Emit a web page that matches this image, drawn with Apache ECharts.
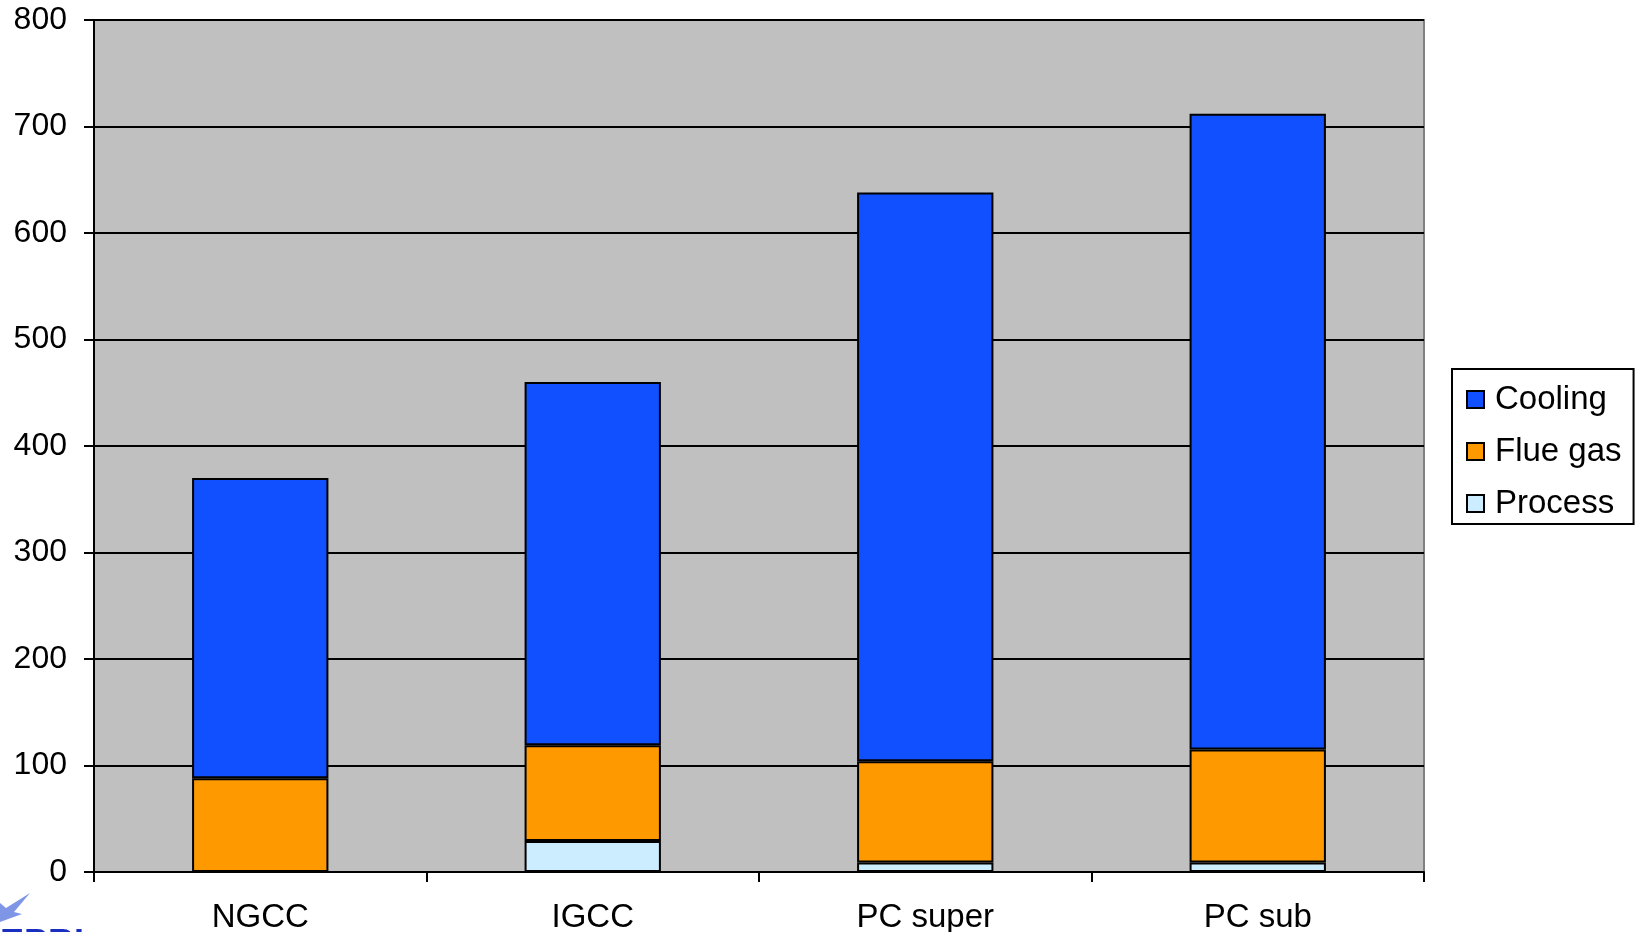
<!DOCTYPE html>
<html>
<head>
<meta charset="utf-8">
<script src="https://cdn.jsdelivr.net/npm/echarts@6/dist/echarts.min.js"></script>
<style>
html, body { margin: 0; padding: 0; background: #fff; }
#chart { width: 1640px; height: 932px; }
</style>
</head>
<body>
<div id="chart"></div>
<script>
var categories = ['NGCC', 'IGCC', 'PC super', 'PC sub'];
var processVals = [0, 29, 9, 9];
var flueVals = [88, 90, 95, 106];
var coolingVals = [282, 341, 534, 597];
var yTicks = [0, 100, 200, 300, 400, 500, 600, 700, 800];

var chart = echarts.init(document.getElementById('chart'));
var font = '"Liberation Sans", Arial, sans-serif';
var barBorder = { borderColor: '#000', borderWidth: 2 };

var option = {
    animation: false,
    textStyle: { fontFamily: font },
    grid: {
        left: 94, right: 216, top: 20, bottom: 60,
        outerBoundsMode: 'none',
        show: true,
        backgroundColor: '#c0c0c0',
        borderColor: '#808080',
        borderWidth: 2
    },
    // partly cut-off logo at the bottom-left corner
    graphic: [
        {
            type: 'polygon',
            shape: { points: [[30, 893], [14, 912], [22, 914], [0, 922], [0, 903], [6, 908]] },
            style: { fill: '#7f95e6' }
        },
        {
            type: 'text',
            left: 0, top: 927,
            style: { text: 'EPRI', font: 'bold 36px ' + font, fill: '#1a2fc0' }
        }
    ],
    legend: {
        orient: 'vertical',
        left: 1452,
        top: 369,
        data: ['Cooling', 'Flue gas', 'Process'],
        icon: 'rect',
        itemWidth: 17,
        itemHeight: 17,
        itemGap: 19,
        padding: [14, 12, 4, 14],
        borderColor: '#000',
        borderWidth: 2,
        backgroundColor: '#fff',
        textStyle: { fontSize: 33, color: '#000', fontFamily: font, lineHeight: 31, padding: [0, 0, 0, 6] }
    },
    xAxis: {
        type: 'category',
        data: categories,
        axisLine: { lineStyle: { color: '#000', width: 2 } },
        axisTick: { show: true, length: 10, lineStyle: { color: '#000', width: 2 } },
        axisLabel: { fontSize: 33, color: '#000', margin: 29, fontFamily: font }
    },
    yAxis: {
        type: 'value',
        min: 0,
        max: yTicks[yTicks.length - 1],
        interval: yTicks[1] - yTicks[0],
        axisLine: { show: true, lineStyle: { color: '#000', width: 2 } },
        axisTick: { show: true, length: 10, lineStyle: { color: '#000', width: 2 } },
        axisLabel: { fontSize: 32, color: '#000', margin: 27, fontFamily: font },
        splitLine: { show: true, lineStyle: { color: '#000', width: 2 } }
    },
    series: [
        {
            name: 'Process', type: 'bar', stack: 'total', data: processVals,
            barWidth: '41%',
            itemStyle: Object.assign({ color: '#ccecff' }, barBorder)
        },
        {
            name: 'Flue gas', type: 'bar', stack: 'total', data: flueVals,
            barWidth: '41%',
            itemStyle: Object.assign({ color: '#ff9900' }, barBorder)
        },
        {
            name: 'Cooling', type: 'bar', stack: 'total', data: coolingVals,
            barWidth: '41%',
            itemStyle: Object.assign({ color: '#1150ff' }, barBorder)
        }
    ]
};
chart.setOption(option);
</script>
</body>
</html>
